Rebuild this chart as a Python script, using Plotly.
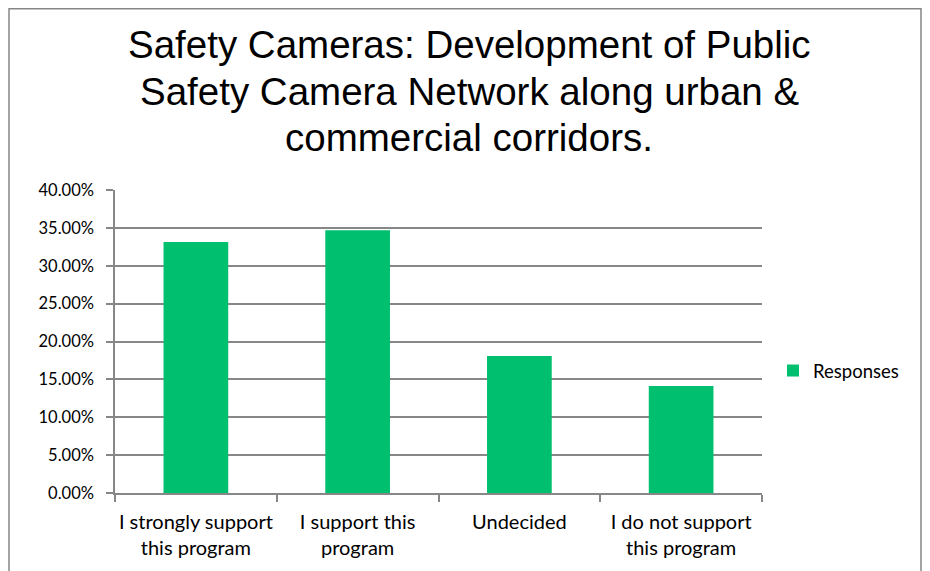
import plotly.graph_objects as go

categories = ["I strongly support<br>this program", "I support this<br>program", "Undecided", "I do not support<br>this program"]
values = [0.3313, 0.3467, 0.1807, 0.1413]
series_name = "Responses"
title_lines = ["Safety Cameras: Development of Public",
               "Safety Camera Network along urban &",
               "commercial corridors."]
y_ticks = [0, 0.05, 0.10, 0.15, 0.20, 0.25, 0.30, 0.35, 0.40]

# page offset (body margin) compensation: target screenshot px -> figure px
OFF = 8
W, H = 930 - OFF, 571 - OFF
plot_l, plot_r, plot_t, plot_b = 115 - OFF, 762 - OFF, 190 - OFF, 493 - OFF
L, R, T, B = plot_l, W - plot_r, plot_t, H - plot_b
pw, ph = plot_r - plot_l, plot_b - plot_t

def px_x(sx):
    return (sx - OFF - plot_l) / pw

def px_y(sy):
    return (plot_b - (sy - OFF)) / ph

fig = go.Figure()
fig.add_trace(go.Bar(x=categories, y=values, name=series_name, marker_color="#00BF6F",
                     marker_line_width=0, showlegend=True))

TITLE_SIZE = 38.5
baselines = [58, 105, 151]
annotations = []
for line, bl in zip(title_lines, baselines):
    annotations.append(dict(text=line, xref="paper", yref="paper", x=px_x(469), y=px_y(bl - 0.35 * TITLE_SIZE),
                            xanchor="center", yanchor="middle", showarrow=False,
                            font=dict(family="Liberation Sans, Arial", size=TITLE_SIZE, color="#000000")))

fig.update_layout(
    width=W, height=H,
    margin=dict(l=L, r=R, t=T, b=B, autoexpand=False),
    paper_bgcolor="white", plot_bgcolor="white",
    bargap=0.6,
    showlegend=True,
    annotations=annotations,
    legend=dict(x=px_x(773), y=px_y(371), xanchor="left", yanchor="middle",
                font=dict(family="Lato", size=18.5, color="#000"),
                bgcolor="rgba(0,0,0,0)", itemwidth=30),
    xaxis=dict(type="category", showgrid=False, showline=True, linecolor="#878787", linewidth=1.5,
               ticks="outside", tickson="boundaries", ticklen=7, tickcolor="#878787", tickwidth=1.5,
               ticklabelstandoff=10, tickangle=0,
               tickfont=dict(family="Lato", size=20, color="#000")),
    yaxis=dict(range=[0, 0.40], tickvals=y_ticks, tickformat=".2%", showgrid=True, gridcolor="#878787",
               gridwidth=1.5, showline=True, linecolor="#878787", linewidth=1.5, ticks="outside",
               ticklen=7, tickcolor="#878787", tickwidth=1.5, zeroline=False, ticklabelstandoff=9,
               tickfont=dict(family="Lato", size=16.5, color="#000")),
    shapes=[dict(type="rect", xref="paper", yref="paper", x0=px_x(9), x1=px_x(921), y0=px_y(600), y1=px_y(8.8),
                 line=dict(color="#878787", width=1.5), fillcolor="rgba(0,0,0,0)", layer="below")],
)

fig.write_html("out.html")
